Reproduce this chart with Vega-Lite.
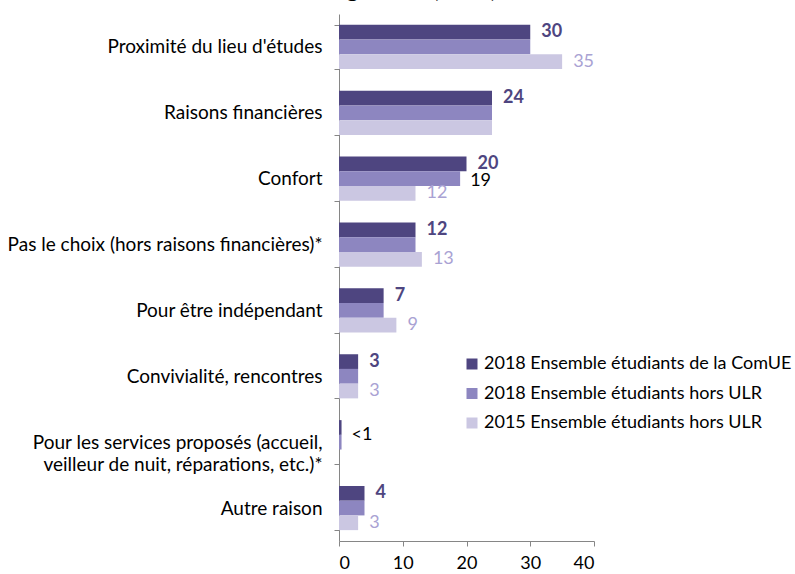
{
  "$schema": "https://vega.github.io/schema/vega-lite/v6.json",
  "width": 255,
  "height": 527,
  "autosize": {"type": "none"},
  "padding": {"left": 339, "top": 14, "right": 201, "bottom": 33},
  "background": "white",
  "title": {
    "text": ["Raisons du choix du type", "de logement (en %)"],
    "font": "Lato",
    "fontSize": 24,
    "lineHeight": 30,
    "fontWeight": "bold",
    "color": "#000000",
    "anchor": "middle",
    "frame": "group",
    "offset": 3,
    "dx": -71
  },
  "config": {
    "view": {"stroke": null},
    "font": "Lato"
  },
  "data": {
    "values": [
      {"category": "Proximité du lieu d'études", "series": "2018 Ensemble étudiants de la ComUE", "value": 30, "label": "30"},
      {"category": "Proximité du lieu d'études", "series": "2018 Ensemble étudiants hors ULR", "value": 30, "label": ""},
      {"category": "Proximité du lieu d'études", "series": "2015 Ensemble étudiants hors ULR", "value": 35, "label": "35"},
      {"category": "Raisons financières", "series": "2018 Ensemble étudiants de la ComUE", "value": 24, "label": "24"},
      {"category": "Raisons financières", "series": "2018 Ensemble étudiants hors ULR", "value": 24, "label": ""},
      {"category": "Raisons financières", "series": "2015 Ensemble étudiants hors ULR", "value": 24, "label": ""},
      {"category": "Confort", "series": "2018 Ensemble étudiants de la ComUE", "value": 20, "label": "20"},
      {"category": "Confort", "series": "2018 Ensemble étudiants hors ULR", "value": 19, "label": "19"},
      {"category": "Confort", "series": "2015 Ensemble étudiants hors ULR", "value": 12, "label": "12"},
      {"category": "Pas le choix (hors raisons financières)*", "series": "2018 Ensemble étudiants de la ComUE", "value": 12, "label": "12"},
      {"category": "Pas le choix (hors raisons financières)*", "series": "2018 Ensemble étudiants hors ULR", "value": 12, "label": ""},
      {"category": "Pas le choix (hors raisons financières)*", "series": "2015 Ensemble étudiants hors ULR", "value": 13, "label": "13"},
      {"category": "Pour être indépendant", "series": "2018 Ensemble étudiants de la ComUE", "value": 7, "label": "7"},
      {"category": "Pour être indépendant", "series": "2018 Ensemble étudiants hors ULR", "value": 7, "label": ""},
      {"category": "Pour être indépendant", "series": "2015 Ensemble étudiants hors ULR", "value": 9, "label": "9"},
      {"category": "Convivialité, rencontres", "series": "2018 Ensemble étudiants de la ComUE", "value": 3, "label": "3"},
      {"category": "Convivialité, rencontres", "series": "2018 Ensemble étudiants hors ULR", "value": 3, "label": ""},
      {"category": "Convivialité, rencontres", "series": "2015 Ensemble étudiants hors ULR", "value": 3, "label": "3"},
      {"category": "Pour les services proposés (accueil,|veilleur de nuit, réparations, etc.)*", "series": "2018 Ensemble étudiants de la ComUE", "value": 0.4, "label": ""},
      {"category": "Pour les services proposés (accueil,|veilleur de nuit, réparations, etc.)*", "series": "2018 Ensemble étudiants hors ULR", "value": 0.4, "label": "<1"},
      {"category": "Autre raison", "series": "2018 Ensemble étudiants de la ComUE", "value": 4, "label": "4"},
      {"category": "Autre raison", "series": "2018 Ensemble étudiants hors ULR", "value": 4, "label": ""},
      {"category": "Autre raison", "series": "2015 Ensemble étudiants hors ULR", "value": 3, "label": "3"}
    ]
  },
  "encoding": {
    "y": {
      "field": "category",
      "type": "nominal",
      "sort": null,
      "scale": {"paddingInner": 0.33, "paddingOuter": 0.165},
      "axis": {
        "title": null,
        "labelExpr": "split(datum.label, '|')",
        "labelFont": "Lato",
        "labelFontSize": 19,
        "labelColor": "#000000",
        "labelLimit": 500,
        "labelLineHeight": 22,
        "labelPadding": 12,
        "tickBand": "extent",
        "tickSize": 5,
        "tickColor": "#868686",
        "domainColor": "#868686"
      }
    },
    "x": {
      "field": "value",
      "type": "quantitative",
      "scale": {"domain": [0, 40], "nice": false},
      "axis": {
        "title": null,
        "values": [0, 10, 20, 30, 40],
        "grid": false,
        "labelFont": "Lato",
        "labelFontSize": 18,
        "labelColor": "#000000",
        "labelPadding": 8,
        "tickSize": 5,
        "tickColor": "#868686",
        "domainColor": "#868686"
      }
    },
    "yOffset": {
      "field": "series",
      "type": "nominal",
      "sort": ["2018 Ensemble étudiants de la ComUE", "2018 Ensemble étudiants hors ULR", "2015 Ensemble étudiants hors ULR"],
      "scale": {"domain": ["2018 Ensemble étudiants de la ComUE", "2018 Ensemble étudiants hors ULR", "2015 Ensemble étudiants hors ULR"], "paddingInner": 0, "paddingOuter": 0}
    }
  },
  "layer": [
    {
      "mark": {"type": "bar"},
      "encoding": {
        "color": {
          "field": "series",
          "type": "nominal",
          "scale": {
            "domain": ["2018 Ensemble étudiants de la ComUE", "2018 Ensemble étudiants hors ULR", "2015 Ensemble étudiants hors ULR"],
            "range": ["#4E4580", "#8D86C0", "#CBC7E2"]
          },
          "legend": {
            "title": null,
            "orient": "none",
            "legendX": 124,
            "legendY": 341,
            "symbolType": "square",
            "symbolSize": 121,
            "symbolStrokeWidth": 0,
            "symbolOpacity": 1,
            "labelFont": "Lato",
            "labelFontSize": 18,
            "labelColor": "#000000",
            "labelLimit": 500,
            "labelOffset": 3,
            "rowPadding": 11.5
          }
        }
      }
    },
    {
      "transform": [{"filter": "datum.series === '2018 Ensemble étudiants de la ComUE'"}],
      "mark": {"type": "text", "align": "left", "baseline": "middle", "dx": 11, "font": "Lato", "fontSize": 18, "fontWeight": "bold", "color": "#4E4580"},
      "encoding": {"text": {"field": "label"}}
    },
    {
      "transform": [{"filter": "datum.series === '2018 Ensemble étudiants hors ULR' && datum.label !== '<1'"}],
      "mark": {"type": "text", "align": "left", "baseline": "middle", "dx": 10, "dy": 2, "font": "Lato", "fontSize": 18, "color": "#000000"},
      "encoding": {"text": {"field": "label"}}
    },
    {
      "transform": [{"filter": "datum.label === '<1'"}],
      "mark": {"type": "text", "align": "left", "baseline": "middle", "dx": 10, "dy": -7, "font": "Lato", "fontSize": 18, "color": "#000000"},
      "encoding": {"text": {"field": "label"}}
    },
    {
      "transform": [{"filter": "datum.series === '2015 Ensemble étudiants hors ULR'"}],
      "mark": {"type": "text", "align": "left", "baseline": "middle", "dx": 11, "font": "Lato", "fontSize": 18, "color": "#A9A2D3"},
      "encoding": {"text": {"field": "label"}}
    }
  ]
}
